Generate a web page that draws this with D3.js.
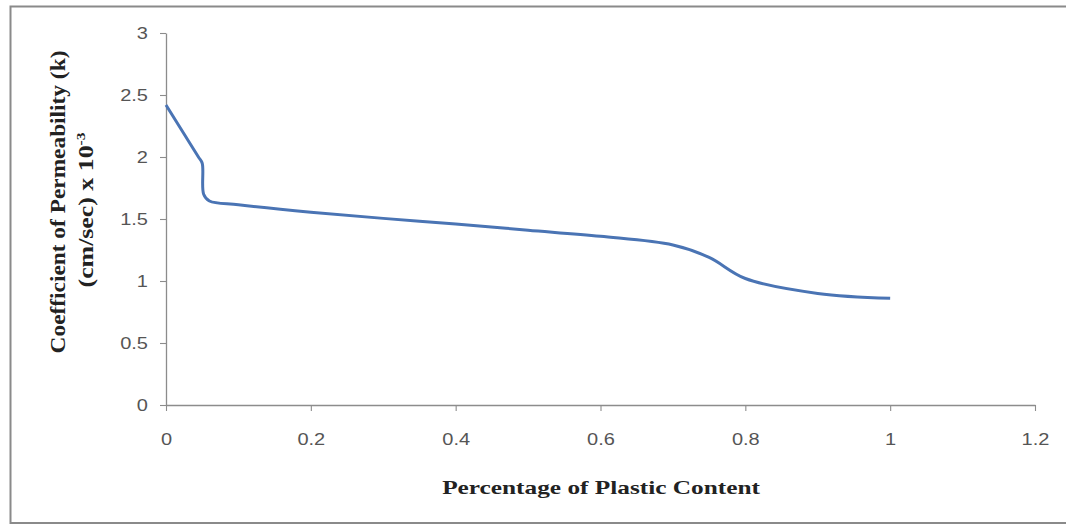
<!DOCTYPE html>
<html>
<head>
<meta charset="utf-8">
<script src="https://cdn.jsdelivr.net/npm/d3@7"></script>
<style>
  html, body { margin: 0; padding: 0; background: #fff; }
  svg { display: block; }
</style>
</head>
<body>
<svg id="chart" width="1066" height="528"></svg>
<script>
// ---- data ----
const plasticContent = [0, 0.025, 0.045, 0.05, 0.052, 0.06, 0.1, 0.2, 0.3, 0.4, 0.5, 0.6, 0.7, 0.75, 0.8, 0.9, 1.0];
const permeability   = [2.42, 2.185, 1.998, 1.95, 1.70, 1.645, 1.615, 1.555, 1.505, 1.46, 1.41, 1.36, 1.29, 1.19, 1.02, 0.90, 0.86];
const xTicks = [0, 0.2, 0.4, 0.6, 0.8, 1, 1.2];
const yTicks = [0, 0.5, 1, 1.5, 2, 2.5, 3];
const xTitle = "Percentage of Plastic Content";
const yTitle1 = "Coefficient of Permeability (k)";
const yTitle2 = "(cm/sec) x 10";
const yTitleSup = "-3";

const svg = d3.select("#chart");

// outer frame
svg.append("rect").attr("x", 10.5).attr("y", 6.5).attr("width", 1070).attr("height", 516.5)
  .attr("fill", "#fff").attr("stroke", "#8a8a8a").attr("stroke-width", 2);

const pLeft = 166, pRight = 1035, pTop = 33, pBottom = 405;
const x = d3.scaleLinear().domain([0, 1.2]).range([pLeft, pRight]);
const y = d3.scaleLinear().domain([0, 3]).range([pBottom, pTop]);
const tickStretch = 1.25;

// y axis
const yAxis = svg.append("g").attr("transform", `translate(${pLeft},0)`)
  .call(d3.axisLeft(y).tickValues(yTicks).tickSize(6).tickSizeOuter(0).tickPadding(9)
    .tickFormat(d => String(d)));
// x axis
const xAxis = svg.append("g").attr("transform", `translate(0,${pBottom})`)
  .call(d3.axisBottom(x).tickValues(xTicks).tickSize(6).tickSizeOuter(0).tickPadding(23)
    .tickFormat(d => String(d)));

[yAxis, xAxis].forEach(g => {
  g.select(".domain").attr("stroke", "#8c8c8c").attr("stroke-width", 1.3);
  g.selectAll(".tick line").attr("stroke", "#8c8c8c").attr("stroke-width", 1.1);
  g.selectAll(".tick text").attr("fill", "#555").attr("font-family", "Liberation Sans, Arial, sans-serif")
    .attr("font-size", 16);
});
yAxis.selectAll(".tick text").attr("x", -18 / tickStretch).attr("transform", `scale(${tickStretch},1)`);
xAxis.selectAll(".tick text").attr("transform", `scale(${tickStretch},1)`);

// line
const pts = plasticContent.map((d, i) => [d, permeability[i]]);
const line = d3.line().x(d => x(d[0])).y(d => y(d[1])).curve(d3.curveCatmullRom.alpha(0.5));
svg.append("path").datum(pts).attr("d", line).attr("fill", "none")
  .attr("stroke", "#4a74b4").attr("stroke-width", 3).attr("stroke-linejoin", "round");

const serif = "Liberation Serif, Times New Roman, serif";

function stretchTo(sel, target) {
  const len = sel.node().getComputedTextLength();
  return target / len;
}

// x title
const xt = svg.append("g").attr("transform", "translate(601,494)");
const xtText = xt.append("text").attr("x", 0).attr("y", 0).attr("text-anchor", "middle")
  .attr("font-family", serif).attr("font-weight", "bold")
  .attr("font-size", 19.5).attr("fill", "#222").text(xTitle);
xtText.attr("transform", `scale(${stretchTo(xtText, 318)},1)`);

// y title line 1
const yt1 = svg.append("g").attr("transform", "translate(65,202) rotate(-90)");
const yt1Text = yt1.append("text").attr("x", 0).attr("y", 0).attr("text-anchor", "middle")
  .attr("font-family", serif).attr("font-weight", "bold")
  .attr("font-size", 20).attr("fill", "#222").text(yTitle1);
yt1Text.attr("transform", `scale(${stretchTo(yt1Text, 303)},1)`);

// y title line 2
const yt2 = svg.append("g").attr("transform", "translate(93,210) rotate(-90)");
const yt2Text = yt2.append("text").attr("x", 0).attr("y", 0).attr("text-anchor", "middle")
  .attr("font-family", serif).attr("font-weight", "bold")
  .attr("font-size", 20).attr("fill", "#222");
yt2Text.append("tspan").text(yTitle2);
yt2Text.append("tspan").attr("dy", -8).attr("font-size", 12).text(yTitleSup);
yt2Text.attr("transform", `scale(${stretchTo(yt2Text, 155)},1)`);
</script>
</body>
</html>
